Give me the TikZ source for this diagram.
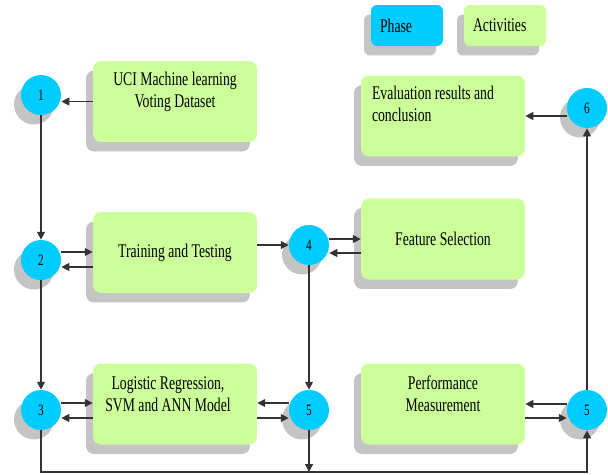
\documentclass[tikz,border=0pt]{standalone}
\usepackage{fontspec}
\setmainfont{Liberation Serif}[FakeStretch=0.71]
\usepackage{xcolor}
\usetikzlibrary{arrows.meta, shadows, calc}

\definecolor{phasecyan}{HTML}{00CCFF}
\definecolor{actgreen}{HTML}{CCFF99}
\definecolor{shadowgray}{HTML}{C4C4C4}

\begin{document}
\begin{tikzpicture}[x=0.02cm, y=-0.02cm,
    shade box/.style={drop shadow={shadow xshift=-0.14cm, shadow yshift=-0.19cm, fill=shadowgray, opacity=1}},
    phase/.style={circle, fill=phasecyan, minimum size=0.8cm, inner sep=0pt, font=\fontsize{9}{10}\selectfont, shade box},
    act/.style={rounded corners=0.16cm, fill=actgreen, minimum width=3.28cm, minimum height=1.62cm, align=center, font=\fontsize{11}{12.5}\selectfont, shade box},
    legend/.style={rounded corners=0.12cm, minimum height=0.82cm, inner xsep=0.18cm, align=left, font=\fontsize{11}{12.5}\selectfont, shade box},
    txt/.style={align=center, inner sep=0pt, font=\fontsize{11}{12.5}\selectfont},
    link/.style={draw=black!80, line width=0.7pt, -{Triangle[length=4.5pt,width=4.5pt]}},
    wire/.style={draw=black!80, line width=0.7pt}]

    \useasboundingbox (0,0) rectangle (608,474);

    % 1. Legend
    \node[legend, fill=phasecyan, text width=1.08cm] (legPhase) at (407,25.5) {Phase};
    \node[legend, fill=actgreen, text width=1.28cm] (legAct) at (505,25.5) {Activities};

    % 2. Activity boxes
    \node[act, label={[txt, yshift=0.2cm]center:{UCI Machine learning\\Voting Dataset}}] (uci) at (175,101.5) {};
    \node[act] (train) at (175,252.5) {Training and Testing};
    \node[act, label={[txt, yshift=0.2cm, xshift=-0.14cm]center:{Logistic Regression,\\SVM and ANN Model}}] (model) at (175,404) {};
    \node[act] (feat) at (443,239) {Feature Selection};
    \node[act, label={[txt, yshift=0.2cm]center:{Performance\\Measurement}}] (perf) at (443,404) {};
    \node[act, label={[txt, align=left, anchor=west, xshift=0.22cm, yshift=0.24cm]west:{Evaluation results and\\conclusion}}] (eval) at (443,116) {};

    % 3. Phase circles
    \node[phase] (p1) at (41,95) {1};
    \node[phase] (p2) at (41,260) {2};
    \node[phase] (p3) at (41,410) {3};
    \node[phase] (p4) at (309,245) {4};
    \node[phase] (p5a) at (309,410) {5};
    \node[phase] (p5b) at (587,410) {5};
    \node[phase] (p6) at (587,108) {6};

    \coordinate (base) at (0,472);

    % 4. Left column
    \draw[link] (uci.west) -- (uci.west -| p1.east);
    \draw[link] (p1.south) -- (p2.north);
    \draw[link] ([yshift=0.16cm]p2.east) -- ([yshift=0.16cm]p2.east -| train.west);
    \draw[link] ([yshift=-0.14cm]p2.east -| train.west) -- ([yshift=-0.14cm]p2.east);
    \draw[link] (p2.south) -- (p3.north);
    \draw[link] ([yshift=0.14cm]p3.east) -- ([yshift=0.14cm]p3.east -| model.west);
    \draw[link] ([yshift=-0.16cm]p3.east -| model.west) -- ([yshift=-0.16cm]p3.east);

    % 5. Middle column
    \draw[link] (p4.west -| train.east) -- (p4.west);
    \draw[link] ([yshift=0.12cm]p4.east) -- ([yshift=0.12cm]p4.east -| feat.west);
    \draw[link] ([yshift=-0.16cm]p4.east -| feat.west) -- ([yshift=-0.16cm]p4.east);
    \draw[link] (p4.south) -- (p5a.north);
    \draw[link] ([yshift=0.14cm]p5a.west) -- ([yshift=0.14cm]p5a.west -| model.east);
    \draw[link] ([yshift=-0.16cm]p5a.west -| model.east) -- ([yshift=-0.16cm]p5a.west);
    \draw[link] (p5a.south) -- (p5a.south |- base);

    % 6. Bottom line and right column
    \draw[link] (p3.south) -- (p3.south |- base) -- (p5b.south |- base) -- (p5b.south);
    \draw[link] ([yshift=0.12cm]p5b.west) -- ([yshift=0.12cm]p5b.west -| perf.east);
    \draw[link] ([yshift=-0.16cm]p5b.west -| perf.east) -- ([yshift=-0.16cm]p5b.west);
    \draw[link] (p5b.north) -- (p6.south);
    \draw[link] (p6.west |- eval.east) -- (eval.east);

\end{tikzpicture}
\end{document}
